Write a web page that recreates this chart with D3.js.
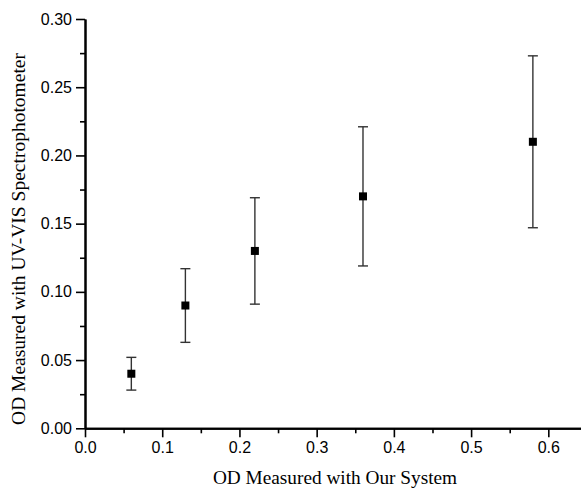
<!DOCTYPE html>
<html>
<head>
<meta charset="utf-8">
<script src="https://cdn.jsdelivr.net/npm/d3@7"></script>
<style>
  body { margin: 0; background: #fff; }
  svg { display: block; }
</style>
</head>
<body>
<svg id="chart" width="581" height="488"></svg>
<script>
const xValues = [0.06, 0.13, 0.22, 0.36, 0.58];
const yValues = [0.040, 0.090, 0.130, 0.170, 0.210];
const yUpper  = [0.052, 0.117, 0.169, 0.221, 0.273];
const yLower  = [0.028, 0.063, 0.091, 0.119, 0.147];
const xTicks = [0.0, 0.1, 0.2, 0.3, 0.4, 0.5, 0.6];
const yTicks = [0.00, 0.05, 0.10, 0.15, 0.20, 0.25, 0.30];
const xTitle = "OD Measured with Our System";
const yTitle = "OD Measured with UV-VIS Spectrophotometer";

const svg = d3.select("#chart");
const x0 = 85, y0 = 428.3, yTop = 19;
const x = d3.scaleLinear().domain([0, 0.65]).range([x0, x0 + 0.65 * 772.2]);
const y = d3.scaleLinear().domain([0, 0.30]).range([y0, yTop]);

const data = xValues.map((v, i) => ({x: v, y: yValues[i], hi: yUpper[i], lo: yLower[i]}));

// minor ticks
const xMinor = xTicks.slice(0, -1).map(t => +(t + 0.05).toFixed(2));
const yMinor = yTicks.slice(0, -1).map(t => +(t + 0.025).toFixed(3));

const gx = svg.append("g").attr("transform", `translate(0,${y0})`);
gx.call(d3.axisBottom(x).tickValues(xMinor).tickSize(5).tickFormat("").tickSizeOuter(0));
gx.append("g").call(d3.axisBottom(x).tickValues(xTicks).tickSize(9).tickSizeOuter(0).tickPadding(4).tickFormat(d3.format(".1f")));

const gy = svg.append("g").attr("transform", `translate(${x0},0)`);
gy.call(d3.axisLeft(y).tickValues(yMinor).tickSize(5).tickFormat("").tickSizeOuter(0));
gy.append("g").call(d3.axisLeft(y).tickValues(yTicks).tickSize(9).tickSizeOuter(0).tickPadding(4).tickFormat(d3.format(".2f")));

svg.selectAll(".domain").attr("stroke", "#000").attr("stroke-width", 2);
svg.selectAll(".tick line").attr("stroke", "#000").attr("stroke-width", 1.6);
svg.selectAll(".tick text")
  .attr("fill", "#000")
  .style("font-family", "'Liberation Sans', Arial, sans-serif")
  .style("font-size", "16px");

// error bars
const eb = svg.append("g").attr("stroke", "#333").attr("stroke-width", 1.4);
eb.selectAll("line.v").data(data).join("line")
  .attr("x1", d => x(d.x)).attr("x2", d => x(d.x))
  .attr("y1", d => y(d.hi)).attr("y2", d => y(d.lo));
eb.selectAll("line.t").data(data).join("line")
  .attr("x1", d => x(d.x) - 5).attr("x2", d => x(d.x) + 5)
  .attr("y1", d => y(d.hi)).attr("y2", d => y(d.hi));
eb.selectAll("line.b").data(data).join("line")
  .attr("x1", d => x(d.x) - 5).attr("x2", d => x(d.x) + 5)
  .attr("y1", d => y(d.lo)).attr("y2", d => y(d.lo));

// markers
svg.append("g").selectAll("rect").data(data).join("rect")
  .attr("x", d => x(d.x) - 4).attr("y", d => y(d.y) - 4)
  .attr("width", 8).attr("height", 8).attr("fill", "#000");

// titles
svg.append("text")
  .attr("x", 335).attr("y", 484)
  .attr("text-anchor", "middle")
  .style("font-family", "'Liberation Serif', 'Times New Roman', serif")
  .style("font-size", "19.3px")
  .text(xTitle);

svg.append("text")
  .attr("transform", "translate(25,239) rotate(-90)")
  .attr("text-anchor", "middle")
  .style("font-family", "'Liberation Serif', 'Times New Roman', serif")
  .style("font-size", "19.5px")
  .text(yTitle);
</script>
</body>
</html>
